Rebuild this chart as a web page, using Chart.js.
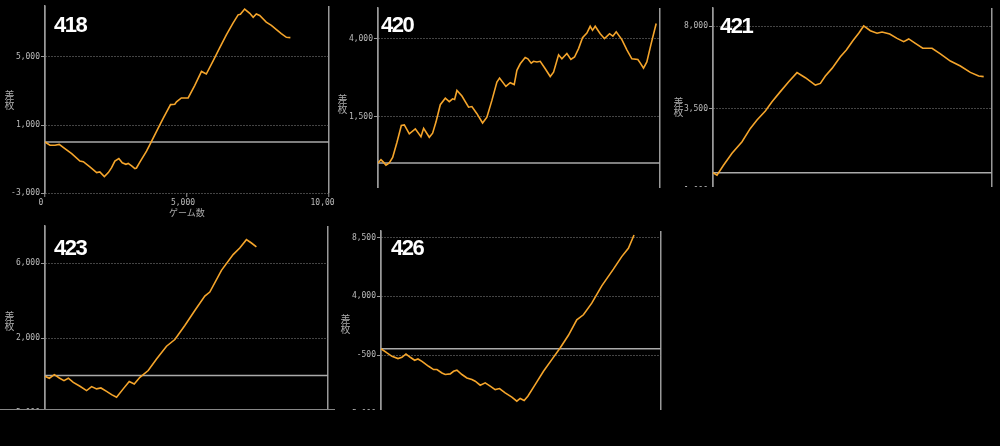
<!DOCTYPE html>
<html>
<head>
<meta charset="utf-8">
<script src="https://cdn.jsdelivr.net/npm/chart.js@4.4.0/dist/chart.umd.min.js"></script>
<style>
html, body { margin: 0; padding: 0; background: #000; }
body { width: 1000px; height: 446px; position: relative; overflow: hidden; }
.crop { position: absolute; overflow: hidden; }
.crop canvas { position: absolute; left: 0; top: 0; }
.num { position: absolute; color: #fff; font: bold 22px "Liberation Sans", Arial, sans-serif; letter-spacing: -1.5px; line-height: 1; }
.ylab { position: absolute; color: #aaa; font: 10px "Noto Sans CJK JP", sans-serif; writing-mode: vertical-rl; line-height: 1; }
.xlab { position: absolute; color: #aaa; font: 9px "Noto Sans CJK JP", sans-serif; line-height: 1; }
</style>
</head>
<body>
<script>
// 差枚 by ゲーム数, five machines
var xTicks = [0, 5000, 10000];

var games418 = [0,176,350,500,700,940,1230,1350,1580,1820,1930,2090,2230,2345,2460,2600,2720,2850,2930,3050,3165,3220,3340,3575,3750,3985,4160,4420,4570,4630,4800,5040,5270,5510,5680,5920,6150,6390,6620,6800,6880,7030,7210,7330,7440,7560,7790,7970,8150,8320,8500,8640];
var diff418 = [0,-190,-190,-140,-390,-680,-1120,-1160,-1470,-1800,-1760,-2030,-1800,-1510,-1120,-970,-1220,-1310,-1260,-1410,-1570,-1530,-1180,-540,40,810,1390,2200,2220,2360,2590,2590,3320,4150,4000,4770,5540,6320,6990,7480,7510,7820,7570,7340,7530,7440,7050,6860,6610,6380,6160,6140];
var yTicks418 = [-3000, 1000, 5000];

var games420 = [0,106,200,283,400,520,673,827,933,1110,1323,1523,1618,1819,1937,2055,2209,2386,2527,2645,2716,2799,2976,3212,3330,3508,3708,3862,4039,4216,4311,4535,4689,4830,4925,5043,5220,5315,5433,5516,5634,5752,5930,6107,6225,6403,6521,6698,6840,6970,7112,7253,7407,7525,7608,7702,7880,8033,8211,8329,8447,8648,8825,9002,9215,9297,9415,9533,9687,9865];
var diff420 = [0,110,20,-70,0,180,670,1210,1230,940,1100,850,1120,830,960,1320,1880,2090,1980,2070,2050,2340,2160,1800,1820,1590,1290,1480,2020,2610,2740,2470,2590,2530,2990,3200,3400,3360,3220,3280,3260,3280,3040,2790,2930,3490,3360,3530,3340,3420,3690,4040,4190,4410,4280,4410,4170,4010,4170,4090,4230,3980,3650,3360,3340,3230,3060,3260,3850,4500];
var yTicks420 = [-1000, 1500, 4000];

var games421 = [0,143,382,681,1040,1338,1577,1876,2115,2414,2713,3011,3310,3669,3848,4027,4266,4565,4780,5019,5222,5401,5640,5880,6059,6334,6597,6835,7015,7254,7517,7851,8150,8508,8866,9224,9522,9702];
var diff421 = [0,-130,420,1060,1690,2420,2880,3370,3880,4430,4970,5470,5190,4790,4880,5280,5700,6340,6710,7220,7620,8020,7760,7620,7690,7580,7340,7160,7310,7070,6800,6800,6490,6100,5830,5480,5280,5250];
var yTicks421 = [-1000, 3500, 8000];

var games423 = [0,153,329,506,671,824,1000,1235,1470,1647,1823,1976,2176,2353,2529,2764,2976,3153,3353,3647,3941,4294,4588,4941,5294,5647,5823,6235,6647,6882,7117,7294,7470];
var diff423 = [-40,-140,50,-130,-270,-140,-360,-570,-800,-590,-710,-660,-840,-1020,-1160,-710,-320,-450,-90,270,890,1570,1930,2680,3480,4250,4470,5630,6470,6820,7270,7090,6880];
var yTicks423 = [-2000, 2000, 6000];

var games426 = [0,214,392,606,749,892,1046,1201,1320,1463,1700,1879,1998,2176,2295,2473,2592,2711,2890,3068,3246,3365,3543,3722,3900,4078,4233,4435,4673,4851,4970,5113,5244,5505,5803,6100,6397,6694,6992,7229,7527,7884,8300,8597,8835,9037];
var diff426 = [0,-330,-590,-760,-660,-410,-660,-890,-790,-970,-1350,-1600,-1600,-1860,-1980,-1930,-1730,-1650,-1980,-2240,-2360,-2490,-2800,-2620,-2870,-3130,-3050,-3380,-3710,-4020,-3810,-3970,-3640,-2750,-1730,-840,50,1020,2210,2590,3480,4800,6080,7040,7680,8690];
var yTicks426 = [-5000, -500, 4000, 8500];

var lineColor = '#f5a52b';
var axisColor = '#999';
var gridColor = '#888';
var tickFont = { family: 'DejaVu Sans Mono', size: 8 };

function drawPanel(p) {
    var crop = document.createElement('div');
    crop.className = 'crop';
    crop.style.left = p.crop[0] + 'px';
    crop.style.top = p.crop[1] + 'px';
    crop.style.width = p.crop[2] + 'px';
    crop.style.height = p.crop[3] + 'px';
    if (p.bottomLine) crop.style.borderBottom = '1px solid #888';
    document.body.append(crop);

    var padRight = 20, xh = 26;
    var canvas = document.createElement('canvas');
    canvas.width = p.area.R - p.crop[0] + padRight;
    canvas.height = p.area.B - p.crop[1] + xh;
    crop.append(canvas);

    var points = p.games.map(function (g, i) { return { x: g, y: p.diff[i] }; });

    new Chart(canvas, {
        type: 'line',
        data: {
            datasets: [
                {
                    data: points,
                    borderColor: lineColor,
                    borderWidth: 1.6,
                    pointRadius: 0,
                    tension: 0,
                    order: 1
                },
                {
                    data: [{ x: xTicks[0], y: 0 }, { x: xTicks[2], y: 0 }],
                    borderColor: '#aaa',
                    borderWidth: 1.5,
                    pointRadius: 0,
                    order: 2
                }
            ]
        },
        options: {
            responsive: false,
            animation: false,
            layout: { padding: { top: p.area.T - p.crop[1], right: padRight, bottom: 0, left: 0 } },
            plugins: { legend: { display: false }, tooltip: { enabled: false } },
            scales: {
                x: {
                    type: 'linear',
                    min: xTicks[0],
                    max: xTicks[2],
                    afterBuildTicks: function (s) { s.ticks = xTicks.map(function (v) { return { value: v }; }); },
                    afterFit: function (s) { s.height = xh; s.paddingLeft = 0; s.paddingRight = 0; },
                    border: { display: false },
                    grid: {
                        color: function (ctx) {
                            return ctx.tick && (ctx.tick.value === xTicks[0] || ctx.tick.value === xTicks[2]) ? axisColor : 'transparent';
                        },
                        lineWidth: 1.5,
                        tickColor: axisColor,
                        tickLength: 4,
                        tickWidth: 1
                    },
                    ticks: {
                        display: p.showX,
                        autoSkip: false,
                        maxRotation: 0,
                        padding: 1,
                        labelOffset: -4,
                        color: '#bbb',
                        font: tickFont,
                        callback: function (v) { return v.toLocaleString('en-US'); }
                    }
                },
                y: {
                    min: p.yMin,
                    max: p.yMax,
                    afterBuildTicks: function (s) { s.ticks = p.yTicks.map(function (v) { return { value: v }; }); },
                    afterFit: function (s) { s.width = p.area.L - p.crop[0]; s.paddingTop = 0; s.paddingBottom = 0; },
                    border: { display: true, color: axisColor, width: 1.5, dash: [1, 2] },
                    grid: {
                        color: gridColor,
                        lineWidth: 1,
                        tickColor: axisColor,
                        tickLength: 4,
                        tickBorderDash: []
                    },
                    ticks: {
                        padding: 1,
                        color: '#bbb',
                        font: tickFont,
                        callback: function (v) { return v.toLocaleString('en-US'); }
                    }
                }
            }
        }
    });
}

function addText(cls, text, left, top) {
    var d = document.createElement('div');
    d.className = cls;
    d.textContent = text;
    d.style.left = left + 'px';
    d.style.top = top + 'px';
    document.body.append(d);
}

drawPanel({ crop: [0, 0, 335, 220], area: { L: 45, R: 329, T: 6, B: 193 }, yMin: -3000, yMax: 8000,
    yTicks: yTicks418, games: games418, diff: diff418, showX: true });
drawPanel({ crop: [335, 0, 335, 188], area: { L: 378, R: 660, T: 8, B: 194 }, yMin: -1000, yMax: 5000,
    yTicks: yTicks420, games: games420, diff: diff420, showX: false });
drawPanel({ crop: [670, 0, 330, 187], area: { L: 713, R: 992, T: 8, B: 191 }, yMin: -1000, yMax: 9000,
    yTicks: yTicks421, games: games421, diff: diff421, showX: false });
drawPanel({ crop: [0, 220, 335, 189], area: { L: 45, R: 328, T: 226, B: 413 }, yMin: -2000, yMax: 8000,
    yTicks: yTicks423, games: games423, diff: diff423, showX: false, bottomLine: true });
drawPanel({ crop: [335, 220, 333, 190], area: { L: 381, R: 661, T: 231, B: 414 }, yMin: -5000, yMax: 9000,
    yTicks: yTicks426, games: games426, diff: diff426, showX: false });

addText('num', '418', 54, 14);
addText('num', '420', 381, 14);
addText('num', '421', 720, 15);
addText('num', '423', 54, 237);
addText('num', '426', 391, 237);

addText('ylab', '差枚', 4, 90);
addText('ylab', '差枚', 337, 94);
addText('ylab', '差枚', 673, 97);
addText('ylab', '差枚', 4, 311);
addText('ylab', '差枚', 340, 314);

addText('xlab', 'ゲーム数', 169, 208);
</script>
</body>
</html>
